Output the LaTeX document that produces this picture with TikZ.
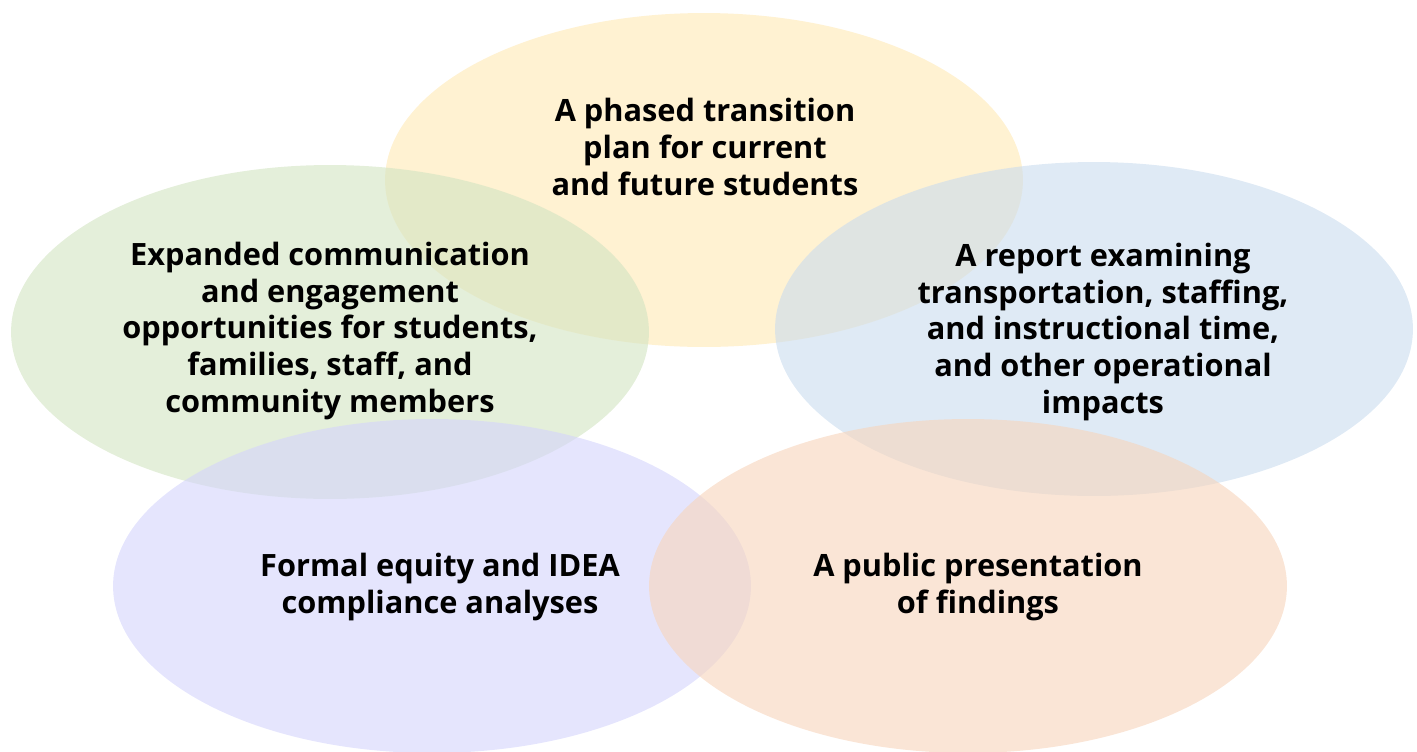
\documentclass[tikz,border=0pt]{standalone}
\usepackage{fontspec}
\setmainfont{Open Sans}
\usetikzlibrary{shapes.geometric}
\definecolor{yell}{RGB}{255,233,180}
\definecolor{gren}{RGB}{210,228,193}
\definecolor{blu}{RGB}{202,220,238}
\definecolor{purp}{RGB}{212,212,252}
\definecolor{oran}{RGB}{247,212,187}
\tikzset{
  blob/.style={ellipse, draw=none, fill opacity=0.6, minimum width=12.76cm, minimum height=6.68cm, inner sep=0pt},
  lbl/.style={align=center, font=\fontsize{17.5}{21}\selectfont\bfseries, text=black}
}
\begin{document}
\begin{tikzpicture}[x=0.02cm, y=-0.02cm]
  \useasboundingbox (0,0) rectangle (1417,751);
  \node[blob, fill=yell] (plan) at (704,180) {};
  \node[blob, fill=gren] (comm) at (330,332) {};
  \node[blob, fill=blu] (report) at (1094,329) {};
  \node[blob, fill=purp] (equity) at (432,586) {};
  \node[blob, fill=oran] (present) at (968,586) {};

  \node[lbl] (planT) at (705,147) {A phased transition\\plan for current\\and future students};
  \node[lbl] (commT) at (330,331) {Expanded communication\\and engagement\\opportunities for students,\\families, staff, and\\community members};
  \node[lbl] (reportT) at (1103,332) {A report examining\\transportation, staffing,\\and instructional time,\\and other operational\\impacts};
  \node[lbl] (equityT) at (440,587) {Formal equity and IDEA\\compliance analyses};
  \node[lbl] (presentT) at (978,587) {A public presentation\\of findings};
\end{tikzpicture}
\end{document}
